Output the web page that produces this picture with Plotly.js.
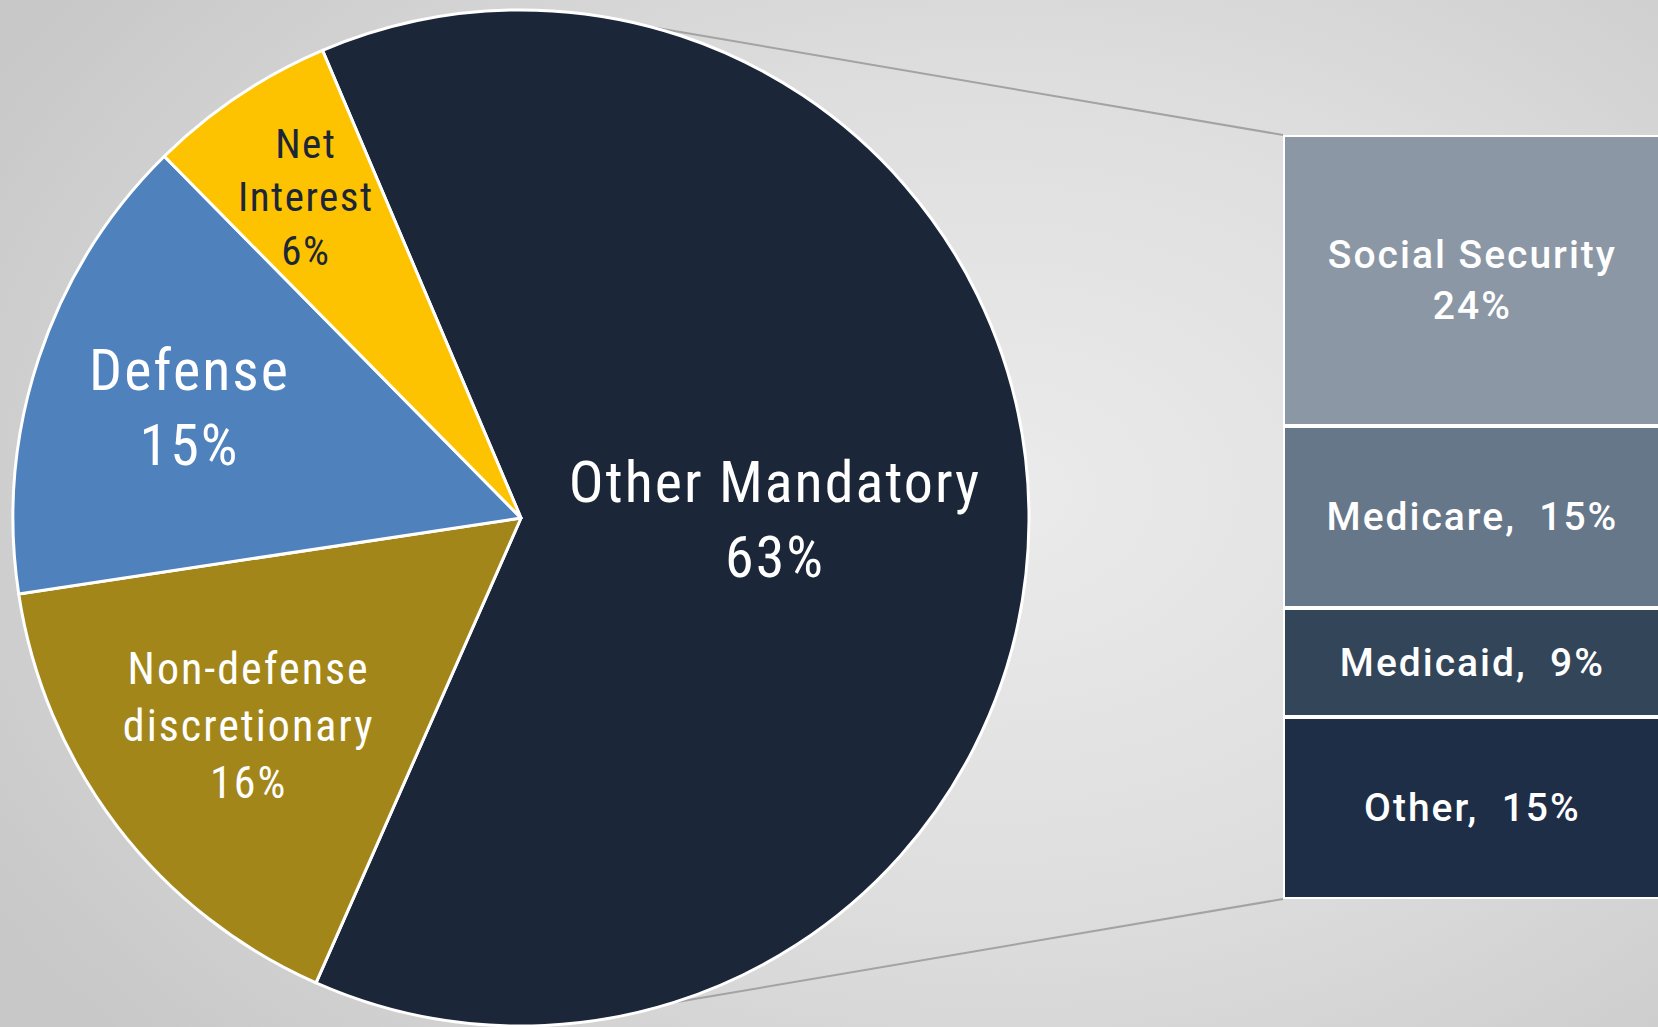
<!DOCTYPE html>
<html lang="en">
<head>
    <meta charset="UTF-8">
    <title>Spending</title>
    <script src="https://cdn.plot.ly/plotly-3.0.1.min.js"></script>
    <style>
        html, body { margin: 0; padding: 0; }
        #myDiv {
            width: 1658px;
            height: 1027px;
            background: radial-gradient(ellipse 70% 80% at 60% 48%, #ebebeb 0%, #dedede 50%, #c8c8c8 100%);
        }
        /* the labels in the original are set a little wider */
        text.slicetext { letter-spacing: 2px; }
        text.annotation-text { letter-spacing: 1.5px; }
        text.bartext { letter-spacing: 2px; }
    </style>
</head>
<body>
    <div id="myDiv"></div>
    <script>
        // pie: whole budget, clockwise from the top
        var pieLabels = ['Other Mandatory', 'Non-defense discretionary', 'Defense', 'Net Interest']
        var pieValues = [63, 16, 15, 6]
        var pieText = ['Other Mandatory<br>63%', 'Non-defense<br>discretionary<br>16%', 'Defense<br>15%', 'Net<br>Interest<br>6%']
        var pieColors = ['#1b2638', '#a38619', '#4f81bd', '#fdc300']
        var pieFontColors = ['#ffffff', '#ffffff', '#ffffff', '#1b2638']

        // bar: breakdown of other mandatory, bottom to top
        var barLabels = ['Other', 'Medicaid', 'Medicare', 'Social Security']
        var barValues = [15, 9, 15, 24]
        var barText = ['Other,\u00a0 15%', 'Medicaid,\u00a0 9%', 'Medicare,\u00a0 15%', 'Social Security<br>24%']
        var barColors = ['#1f2e47', '#334559', '#66778a', '#8b97a4']

        var W = 1658, H = 1027
        var cx = 521, cy = 518, r = 508          // pie centre / radius in px
        var rotation = -23
        var barLeft = 1283, barTop = 135, barBottom = 899

        var condensed = 'Roboto Condensed, Liberation Sans Narrow, DejaVu Sans Condensed, Roboto, sans-serif'
        var pieFontSizes = [58, 44, 58, 41]

        // the small slice would be shrunk by plotly, so its label goes in an annotation
        var smallIdx = 3
        var sliceText = pieText.map((t, i) => i === smallIdx ? '' : t)

        var pie = {
            type: 'pie',
            labels: pieLabels,
            values: pieValues,
            text: sliceText,
            textinfo: 'text',
            textposition: 'inside',
            insidetextorientation: 'horizontal',
            sort: false,
            direction: 'clockwise',
            rotation: rotation,
            marker: { colors: pieColors, line: { color: '#ffffff', width: 3 } },
            textfont: { family: condensed, size: pieFontSizes, color: pieFontColors },
            domain: { x: [(cx - r) / W, (cx + r) / W], y: [(H - cy - r) / H, (H - cy + r) / H] },
            hoverinfo: 'none',
            showlegend: false
        }

        var data = [pie]
        for (let i = 0; i < barValues.length; i++) {
            data.push({
                type: 'bar',
                name: barLabels[i],
                x: [0],
                y: [barValues[i]],
                width: [1],
                text: [barText[i]],
                textposition: 'inside',
                insidetextanchor: 'middle',
                textangle: 0,
                constraintext: 'none',
                textfont: { family: 'Roboto, Liberation Sans, sans-serif', size: 39, color: '#ffffff', weight: 500 },
                marker: { color: barColors[i], line: { color: '#ffffff', width: 4 } },
                hoverinfo: 'none',
                showlegend: false
            })
        }

        var total = barValues.reduce((a, b) => a + b, 0)
        var pieTotal = pieValues.reduce((a, b) => a + b, 0)

        // point on the pie at an angle measured clockwise from 12 o'clock, in paper coords
        function piePoint(deg, frac) {
            var a = deg * Math.PI / 180
            return [(cx + frac * r * Math.sin(a)) / W, (H - (cy - frac * r * Math.cos(a))) / H]
        }

        // mid angle of the small slice from the cumulative values
        var before = pieValues.slice(0, smallIdx).reduce((a, b) => a + b, 0)
        var midDeg = rotation + (before + pieValues[smallIdx] / 2) / pieTotal * 360
        var smallPos = piePoint(midDeg, 0.76)

        var pTop = piePoint(15, 1)
        var pBot = piePoint(162.5, 1)

        var layout = {
            width: W,
            height: H,
            margin: { l: 0, r: 0, t: 0, b: 0 },
            paper_bgcolor: 'rgba(0,0,0,0)',
            plot_bgcolor: 'rgba(0,0,0,0)',
            barmode: 'stack',
            xaxis: { domain: [barLeft / W, 1], range: [-0.5, 0.49], visible: false, fixedrange: true },
            yaxis: { domain: [(H - barBottom) / H, (H - barTop) / H], range: [0, total], visible: false, fixedrange: true },
            annotations: [
                { xref: 'paper', yref: 'paper', x: smallPos[0], y: smallPos[1], xanchor: 'center', yanchor: 'middle',
                  text: pieText[smallIdx], showarrow: false, align: 'center',
                  font: { family: condensed, size: pieFontSizes[smallIdx], color: pieFontColors[smallIdx] } }
            ],
            shapes: [
                { type: 'line', xref: 'paper', yref: 'paper', x0: pTop[0], y0: pTop[1], x1: barLeft / W, y1: (H - barTop) / H,
                  line: { color: '#a3a3a3', width: 2 }, layer: 'below' },
                { type: 'line', xref: 'paper', yref: 'paper', x0: pBot[0], y0: pBot[1], x1: barLeft / W, y1: (H - barBottom) / H,
                  line: { color: '#a3a3a3', width: 2 }, layer: 'below' }
            ]
        }

        Plotly.newPlot('myDiv', data, layout, { displayModeBar: false, staticPlot: true })
    </script>
</body>
</html>
